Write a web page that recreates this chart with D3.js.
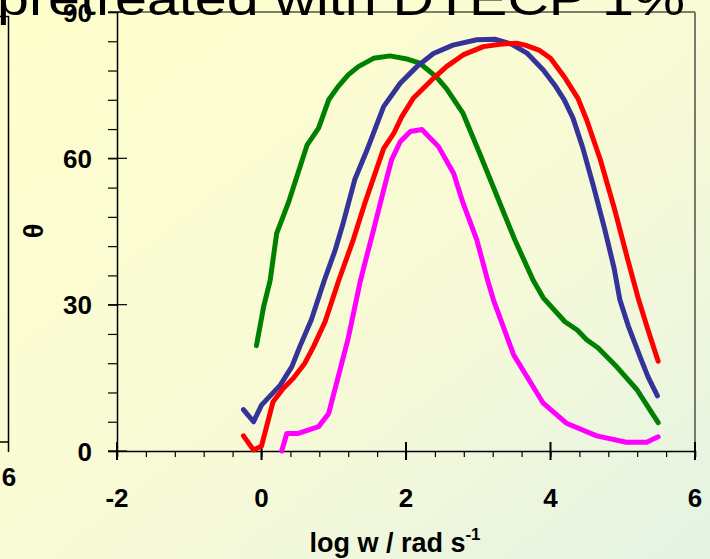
<!DOCTYPE html>
<html>
<head>
<meta charset="utf-8">
<script src="https://cdn.jsdelivr.net/npm/d3@7"></script>
<style>
  body { margin: 0; padding: 0; overflow: hidden; }
  svg { display: block; font-family: "Liberation Sans", Arial, sans-serif; }
</style>
</head>
<body>
<svg id="chart" width="710" height="559"></svg>
<script>
// curves: [log w, theta]
var green_data = [[-0.07,21.6],[0.03,29.6],[0.12,35],[0.21,44.6],[0.37,50.8],[0.63,62.7],[0.79,66.2],
  [0.93,72],[1.06,74.7],[1.2,77.1],[1.34,78.8],[1.55,80.5],[1.78,81],[2.03,80.3],[2.19,79.5],
  [2.42,76.7],[2.56,74.3],[2.79,69.2],[3.02,61],[3.28,51.5],[3.5,43.5],[3.76,35],[3.9,31.4],
  [4.2,26.5],[4.37,24.8],[4.5,22.8],[4.66,21.1],[4.92,17.2],[5.2,12.5],[5.49,5.8]]
var blue_data = [[-0.25,8.5],[-0.11,6],[0.0,9.4],[0.26,13.5],[0.42,17.3],[0.53,21.4],[0.69,26.9],
  [0.87,35],[1.02,41.2],[1.13,46.7],[1.29,55.6],[1.46,61.7],[1.69,70.6],[1.92,75.4],[2.15,78.8],
  [2.38,81.5],[2.65,83.2],[2.98,84.3],[3.24,84.4],[3.46,83.4],[3.68,81.5],[3.9,78.1],[4.06,75],
  [4.19,72],[4.31,68.3],[4.45,62],[4.6,54],[4.75,45.5],[4.88,37.5],[4.96,31],[5.08,25.5],
  [5.24,19.3],[5.35,15.2],[5.48,11.3]]
var red_data = [[-0.25,3.1],[-0.11,0.2],[0.0,1],[0.07,5],[0.16,10.1],[0.3,12.8],[0.44,14.9],[0.6,18],
  [0.72,21.4],[0.88,26.5],[1.07,35],[1.27,43.3],[1.43,50.8],[1.69,62],[1.83,65.1],[1.94,68.5],
  [2.1,72.3],[2.38,76.4],[2.56,78.8],[2.79,81.2],[3.07,82.9],[3.3,83.4],[3.53,83.6],[3.65,83.2],
  [3.84,82.2],[4.0,80.5],[4.2,76.5],[4.38,72.3],[4.5,67.9],[4.69,59.7],[4.89,49.4],[5.07,39.2],
  [5.22,31],[5.35,24.8],[5.49,18.4]]
var magenta_data = [[0.28,0],[0.35,3.6],[0.51,3.6],[0.79,5],[0.93,7.7],[1.2,23.1],[1.37,35],[1.55,45.3],
  [1.69,53.5],[1.8,59.7],[1.92,63.4],[2.06,65.5],[2.22,65.9],[2.45,62.4],[2.66,56.9],[2.79,50.8],
  [2.98,43.3],[3.13,35],[3.21,31],[3.49,19.7],[3.9,9.8],[4.22,5.7],[4.64,3.1],[5.05,1.8],
  [5.33,1.8],[5.49,2.9]]

var series = [
  {name: "green", color: "#008000", values: green_data},
  {name: "blue", color: "#333399", values: blue_data},
  {name: "red", color: "#ff0000", values: red_data},
  {name: "magenta", color: "#ff00ff", values: magenta_data}
]

var x_ticks = [-2, 0, 2, 4, 6]
var y_ticks = [0, 30, 60, 90]
var title_text = "pretreated with DTECP 1%"
var x_label = "log w / rad s"
var y_label = "\u03b8"

var svg = d3.select("#chart")
var width = parseFloat(svg.attr("width"))
var height = parseFloat(svg.attr("height"))

var margin = {left: 117, right: 15, top: 12, bottom: 108}

var x = d3.scaleLinear().domain([-2, 6]).range([margin.left, width - margin.right])
var y = d3.scaleLinear().domain([0, 90]).range([height - margin.bottom, margin.top])

// background
var defs = svg.append("defs")
var grad = defs.append("linearGradient")
    .attr("id", "bg")
    .attr("x1", "0").attr("y1", "0")
    .attr("x2", "1").attr("y2", "1")
grad.append("stop").attr("offset", "0").attr("stop-color", "#ffffcc")
grad.append("stop").attr("offset", "0.55").attr("stop-color", "#f8fad6")
grad.append("stop").attr("offset", "1").attr("stop-color", "#e4f3e4")
svg.append("rect")
    .attr("width", width)
    .attr("height", height)
    .attr("fill", "url(#bg)")

// cut-off title above the chart
svg.append("text")
    .attr("x", -3)
    .attr("y", 15)
    .attr("font-size", 46)
    .attr("textLength", 688)
    .attr("lengthAdjust", "spacingAndGlyphs")
    .text(title_text)

// piece of the neighbouring chart on the left
var left_box = svg.append("g").attr("stroke", "#000").attr("stroke-width", 1.5).attr("fill", "none")
left_box.append("path").attr("d", "M0,16.5H8.5V452")
left_box.append("path").attr("d", "M0,442H8.5")
svg.append("text")
    .attr("x", 9)
    .attr("y", 486)
    .attr("text-anchor", "middle")
    .attr("font-size", 26)
    .attr("font-weight", "bold")
    .text("6")

// frame
svg.append("line")
    .attr("x1", x(-2)).attr("x2", x(6))
    .attr("y1", y(90)).attr("y2", y(90))
    .attr("stroke", "#000").attr("stroke-width", 1.2)
svg.append("line")
    .attr("x1", x(6)).attr("x2", x(6))
    .attr("y1", y(90)).attr("y2", y(0))
    .attr("stroke", "#7a7a6a").attr("stroke-width", 2)

// x axis
var x_axis = d3.axisBottom(x).tickValues(d3.range(-2, 6.01, 0.4)).tickSize(6).tickFormat("")
var gx = svg.append("g")
    .attr("transform", "translate(0," + y(0) + ")")
    .call(x_axis)
gx.select(".domain").attr("stroke-width", 1.5)
gx.selectAll(".tick line").attr("stroke-width", 1.2)
gx.selectAll(".major")
    .data(x_ticks)
    .enter()
    .append("line")
    .attr("x1", function(d){ return x(d) })
    .attr("x2", function(d){ return x(d) })
    .attr("y1", -9)
    .attr("y2", 9)
    .attr("stroke", "#000")
    .attr("stroke-width", 2)
gx.selectAll(".xlab")
    .data(x_ticks)
    .enter()
    .append("text")
    .attr("x", function(d){ return x(d) })
    .attr("y", 56)
    .attr("text-anchor", "middle")
    .attr("font-size", 26)
    .attr("font-weight", "bold")
    .attr("fill", "#000")
    .text(function(d){ return d })

// y axis
var y_axis = d3.axisLeft(y).tickValues(d3.range(0, 90.01, 6)).tickSize(9).tickFormat("")
var gy = svg.append("g")
    .attr("transform", "translate(" + x(-2) + ",0)")
    .call(y_axis)
gy.select(".domain").attr("stroke-width", 1.5)
gy.selectAll(".tick line").attr("stroke-width", 1.2)
gy.selectAll(".major")
    .data(y_ticks)
    .enter()
    .append("line")
    .attr("x1", -9)
    .attr("x2", 10)
    .attr("y1", function(d){ return y(d) })
    .attr("y2", function(d){ return y(d) })
    .attr("stroke", "#000")
    .attr("stroke-width", 1.2)
gy.selectAll(".ylab")
    .data(y_ticks)
    .enter()
    .append("text")
    .attr("x", -25)
    .attr("y", function(d){ return y(d) + 9.5 })
    .attr("text-anchor", "end")
    .attr("font-size", 26)
    .attr("font-weight", "bold")
    .attr("fill", "#000")
    .text(function(d){ return d })

// axis titles
var xt = svg.append("text")
    .attr("x", 395)
    .attr("y", 552)
    .attr("text-anchor", "middle")
    .attr("font-size", 27)
    .attr("font-weight", "bold")
xt.append("tspan").text(x_label)
xt.append("tspan").attr("dy", -12).attr("font-size", 17).text("-1")

svg.append("text")
    .attr("transform", "translate(43,231) rotate(-90)")
    .attr("text-anchor", "middle")
    .attr("font-size", 27)
    .attr("font-weight", "bold")
    .text(y_label)

// curves
var line = d3.line()
    .x(function(d){ return x(d[0]) })
    .y(function(d){ return y(d[1]) })

svg.selectAll(".curve")
    .data(series)
    .enter()
    .append("path")
    .attr("class", "curve")
    .attr("d", function(d){ return line(d.values) })
    .attr("fill", "none")
    .attr("stroke", function(d){ return d.color })
    .attr("stroke-width", 5)
    .attr("stroke-linejoin", "round")
    .attr("stroke-linecap", "round")
</script>
</body>
</html>
